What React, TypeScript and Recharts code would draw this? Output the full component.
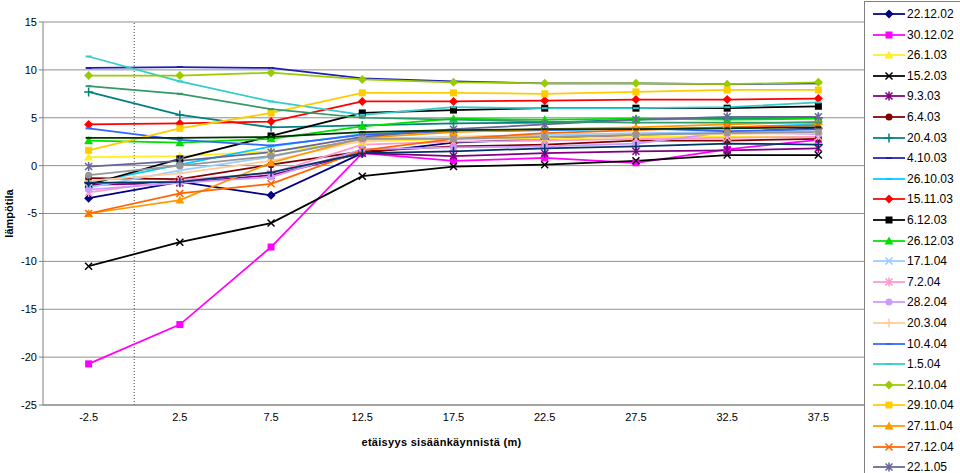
import React from 'react';
import { LineChart, Line, XAxis, YAxis, CartesianGrid, ReferenceLine } from 'recharts';

document.body.style.margin = '0';

// etäisyys sisäänkäynnistä (m)
const distances = [-2.5, 2.5, 7.5, 12.5, 17.5, 22.5, 27.5, 32.5, 37.5];
const yTicks = [-25, -20, -15, -10, -5, 0, 5, 10, 15];

// lämpötila per mittauspäivä
const s22_12_02 = [-3.4, -1.7, -3.1, 1.3, 2.4, 2.8, 3.2, 3.5, 3.9];
const s30_12_02 = [-20.7, -16.6, -8.5, 1.3, 0.5, 0.8, 0.3, 1.7, 2.7];
const s26_1_03 = [0.9, 1.0, 1.5, 2.5, 2.8, 2.8, 3.0, 3.0, 3.0];
const s15_2_03 = [-10.5, -8.0, -6.0, -1.1, -0.1, 0.1, 0.5, 1.1, 1.1];
const s9_3_03 = [-2.0, -1.8, -1.0, 1.3, 1.0, 1.3, 1.5, 1.6, 1.8];
const s6_4_03 = [-1.3, -1.4, 0.1, 1.5, 2.0, 2.2, 2.6, 2.6, 2.8];
const s20_4_03 = [7.7, 5.3, 4.0, 4.2, 4.4, 4.5, 4.8, 4.9, 5.0];
const s4_10_03 = [10.2, 10.3, 10.2, 9.1, 8.8, 8.6, 8.6, 8.5, 8.6];
const s26_10_03 = [-1.8, 0.1, 2.0, 3.3, 3.6, 3.7, 3.8, 4.0, 4.3];
const s15_11_03 = [4.3, 4.4, 4.6, 6.7, 6.7, 6.8, 6.9, 6.9, 7.0];
const s6_12_03 = [-2.0, 0.7, 3.1, 5.5, 5.8, 6.0, 6.0, 6.0, 6.2];
const s26_12_03 = [2.6, 2.4, 2.8, 4.1, 4.9, 4.8, 4.9, 4.8, 4.9];
const s17_1_04 = [-2.3, -0.5, 0.9, 2.8, 3.0, 3.2, 3.4, 3.5, 3.6];
const s7_2_04 = [-2.8, -1.5, -0.8, 2.2, 2.5, 2.6, 2.8, 2.9, 3.0];
const s28_2_04 = [-2.5, -1.8, -1.2, 1.7, 1.9, 2.0, 2.3, 3.5, 3.3];
const s20_3_04 = [-1.6, -0.8, 0.5, 2.6, 3.0, 3.0, 3.2, 3.3, 3.4];
const s10_4_04 = [3.9, 2.7, 2.1, 3.2, 3.6, 3.7, 3.9, 3.6, 3.8];
const s1_5_04 = [11.4, 8.8, 6.7, 5.3, 6.1, 6.0, 6.0, 6.1, 6.6];
const s2_10_04 = [9.4, 9.4, 9.7, 9.0, 8.7, 8.6, 8.6, 8.5, 8.7];
const s29_10_04 = [1.6, 3.9, 5.5, 7.6, 7.6, 7.5, 7.7, 7.9, 7.9];
const s27_11_04 = [-5.0, -3.6, 0.3, 2.9, 3.5, 3.8, 4.0, 4.3, 4.6];
const s27_12_04 = [-5.0, -2.9, -1.9, 1.6, 2.8, 3.4, 3.7, 4.0, 4.2];
const s22_1_05 = [-0.1, 0.5, 1.4, 3.0, 3.8, 4.3, 4.8, 5.1, 5.1];
// legend entries below 22.1.05 are cut off in the picture
const s24 = [-1.0, 0.0, 1.0, 2.8, 2.8, 3.0, 3.2, 3.4, 3.5];
const s25 = [-1.8, -1.7, -0.7, 1.3, 1.5, 1.8, 2.0, 2.3, 2.2];
const s26 = [8.3, 7.5, 5.9, 5.0, 4.8, 4.6, 4.5, 4.5, 4.5];
const s27 = [2.9, 2.9, 3.0, 3.5, 3.7, 3.8, 3.8, 3.9, 4.0];

type Shape = 'diamond' | 'square' | 'triangle' | 'x' | 'star' | 'circle' | 'plus' | 'dash';

const series: { key: string; name?: string; values: number[]; color: string; shape: Shape }[] = [
    { key: 'k1', name: '22.12.02', values: s22_12_02, color: '#000080', shape: 'diamond' },
    { key: 'k2', name: '30.12.02', values: s30_12_02, color: '#FF00FF', shape: 'square' },
    { key: 'k3', name: '26.1.03', values: s26_1_03, color: '#FFEE22', shape: 'triangle' },
    { key: 'k4', name: '15.2.03', values: s15_2_03, color: '#000000', shape: 'x' },
    { key: 'k5', name: '9.3.03', values: s9_3_03, color: '#800080', shape: 'star' },
    { key: 'k6', name: '6.4.03', values: s6_4_03, color: '#800000', shape: 'circle' },
    { key: 'k7', name: '20.4.03', values: s20_4_03, color: '#008080', shape: 'plus' },
    { key: 'k8', name: '4.10.03', values: s4_10_03, color: '#2020B0', shape: 'dash' },
    { key: 'k9', name: '26.10.03', values: s26_10_03, color: '#00CCFF', shape: 'dash' },
    { key: 'k10', name: '15.11.03', values: s15_11_03, color: '#FF0000', shape: 'diamond' },
    { key: 'k11', name: '6.12.03', values: s6_12_03, color: '#000000', shape: 'square' },
    { key: 'k12', name: '26.12.03', values: s26_12_03, color: '#00E000', shape: 'triangle' },
    { key: 'k13', name: '17.1.04', values: s17_1_04, color: '#99CCFF', shape: 'x' },
    { key: 'k14', name: '7.2.04', values: s7_2_04, color: '#FF99CC', shape: 'star' },
    { key: 'k15', name: '28.2.04', values: s28_2_04, color: '#CC99FF', shape: 'circle' },
    { key: 'k16', name: '20.3.04', values: s20_3_04, color: '#FFCC99', shape: 'plus' },
    { key: 'k17', name: '10.4.04', values: s10_4_04, color: '#3366FF', shape: 'dash' },
    { key: 'k18', name: '1.5.04', values: s1_5_04, color: '#33CCCC', shape: 'dash' },
    { key: 'k19', name: '2.10.04', values: s2_10_04, color: '#99CC00', shape: 'diamond' },
    { key: 'k20', name: '29.10.04', values: s29_10_04, color: '#FFCC00', shape: 'square' },
    { key: 'k21', name: '27.11.04', values: s27_11_04, color: '#FF9900', shape: 'triangle' },
    { key: 'k22', name: '27.12.04', values: s27_12_04, color: '#FF6600', shape: 'x' },
    { key: 'k23', name: '22.1.05', values: s22_1_05, color: '#666699', shape: 'star' },
    { key: 'k24', values: s24, color: '#969696', shape: 'circle' },
    { key: 'k25', values: s25, color: '#003366', shape: 'plus' },
    { key: 'k26', values: s26, color: '#339966', shape: 'dash' },
    { key: 'k27', values: s27, color: '#003300', shape: 'dash' },
];

const rows = distances.map((dist, i) => {
    const row: Record<string, number> = { dist };
    series.forEach(s => { row[s.key] = s.values[i]; });
    return row;
});

const font = '"Liberation Sans", Arial, sans-serif';

function Marker({ cx, cy, shape, color }: { cx: number; cy: number; shape: Shape; color: string }) {
    if (cx == null || cy == null) return null;
    const r = 3.5;
    switch (shape) {
        case 'diamond':
            return <polygon points={`${cx},${cy - 4.5} ${cx + 4.5},${cy} ${cx},${cy + 4.5} ${cx - 4.5},${cy}`} fill={color} />;
        case 'square':
            return <rect x={cx - r} y={cy - r} width={r * 2} height={r * 2} fill={color} />;
        case 'triangle':
            return <polygon points={`${cx},${cy - 4.5} ${cx + 4.5},${cy + 3.5} ${cx - 4.5},${cy + 3.5}`} fill={color} />;
        case 'circle':
            return <circle cx={cx} cy={cy} r={r} fill={color} />;
        case 'x':
            return <path d={`M${cx - r},${cy - r}L${cx + r},${cy + r}M${cx - r},${cy + r}L${cx + r},${cy - r}`} stroke={color} strokeWidth={1.5} />;
        case 'star':
            return <path d={`M${cx - r},${cy - r}L${cx + r},${cy + r}M${cx - r},${cy + r}L${cx + r},${cy - r}M${cx},${cy - 4.5}L${cx},${cy + 4.5}`} stroke={color} strokeWidth={1.5} />;
        case 'plus':
            return <path d={`M${cx - 4.5},${cy}L${cx + 4.5},${cy}M${cx},${cy - 4.5}L${cx},${cy + 4.5}`} stroke={color} strokeWidth={1.5} />;
        default:
            return <path d={`M${cx - 3},${cy}L${cx + 3},${cy}`} stroke={color} strokeWidth={2} />;
    }
}

function SideLegend() {
    const named = series.filter(s => s.name);
    return (
        <div style={{
            position: 'absolute', left: 864, top: 1, width: 110, height: 500,
            border: '1px solid #808080', background: '#fff', fontFamily: font, fontSize: 12
        }}>
            {named.map((s, i) => (
                <div key={s.key} style={{ position: 'absolute', left: 0, top: 2 + i * 20.6, height: 20, display: 'flex', alignItems: 'center' }}>
                    <svg width={42} height={20}>
                        <line x1={8} y1={10} x2={40} y2={10} stroke={s.color} strokeWidth={1.75} />
                        <Marker cx={24} cy={10} shape={s.shape} color={s.color} />
                    </svg>
                    <span style={{ color: '#000' }}>{s.name}</span>
                </div>
            ))}
        </div>
    );
}

export default function App() {
    return (
        <div style={{ position: 'relative', width: 960, height: 473, overflow: 'hidden', background: '#fff', fontFamily: font }}>
            <LineChart width={960} height={473} data={rows} margin={{ top: 22, right: 96, left: 0, bottom: 23 }}>
                <CartesianGrid vertical={false} stroke="#909090" />
                <XAxis type="number" dataKey="dist" domain={[-5, 40]} ticks={distances} interval={0}
                    tick={{ fontSize: 11, fill: '#000', fontFamily: font }} tickLine={false} tickSize={6}
                    axisLine={{ stroke: '#808080' }} height={45}
                    label={{ value: 'etäisyys sisäänkäynnistä (m)', position: 'insideBottom', offset: 4, dx: -12,
                        style: { fontSize: 11, fontWeight: 'bold', letterSpacing: 0.3, fill: '#000', fontFamily: font } }} />
                <YAxis type="number" domain={[-25, 15]} ticks={yTicks} interval={0} width={43}
                    tick={{ fontSize: 11, fill: '#000', fontFamily: font }} tickSize={4}
                    axisLine={{ stroke: '#808080' }} tickLine={{ stroke: '#808080' }}
                    label={{ value: 'lämpötila', angle: -90, position: 'insideLeft', offset: 9,
                        style: { textAnchor: 'middle', fontSize: 11, fontWeight: 'bold', fill: '#000', fontFamily: font } }} />
                <ReferenceLine x={0} stroke="#404040" strokeDasharray="1 2" />
                {series.map(s => (
                    <Line key={s.key} type="linear" dataKey={s.key} name={s.name ?? s.key} stroke={s.color}
                        strokeWidth={1.75} isAnimationActive={false} activeDot={false}
                        dot={(p: any) => <Marker key={`${s.key}-${p.index}`} cx={p.cx} cy={p.cy} shape={s.shape} color={s.color} />} />
                ))}
            </LineChart>
            <SideLegend />
        </div>
    );
}
